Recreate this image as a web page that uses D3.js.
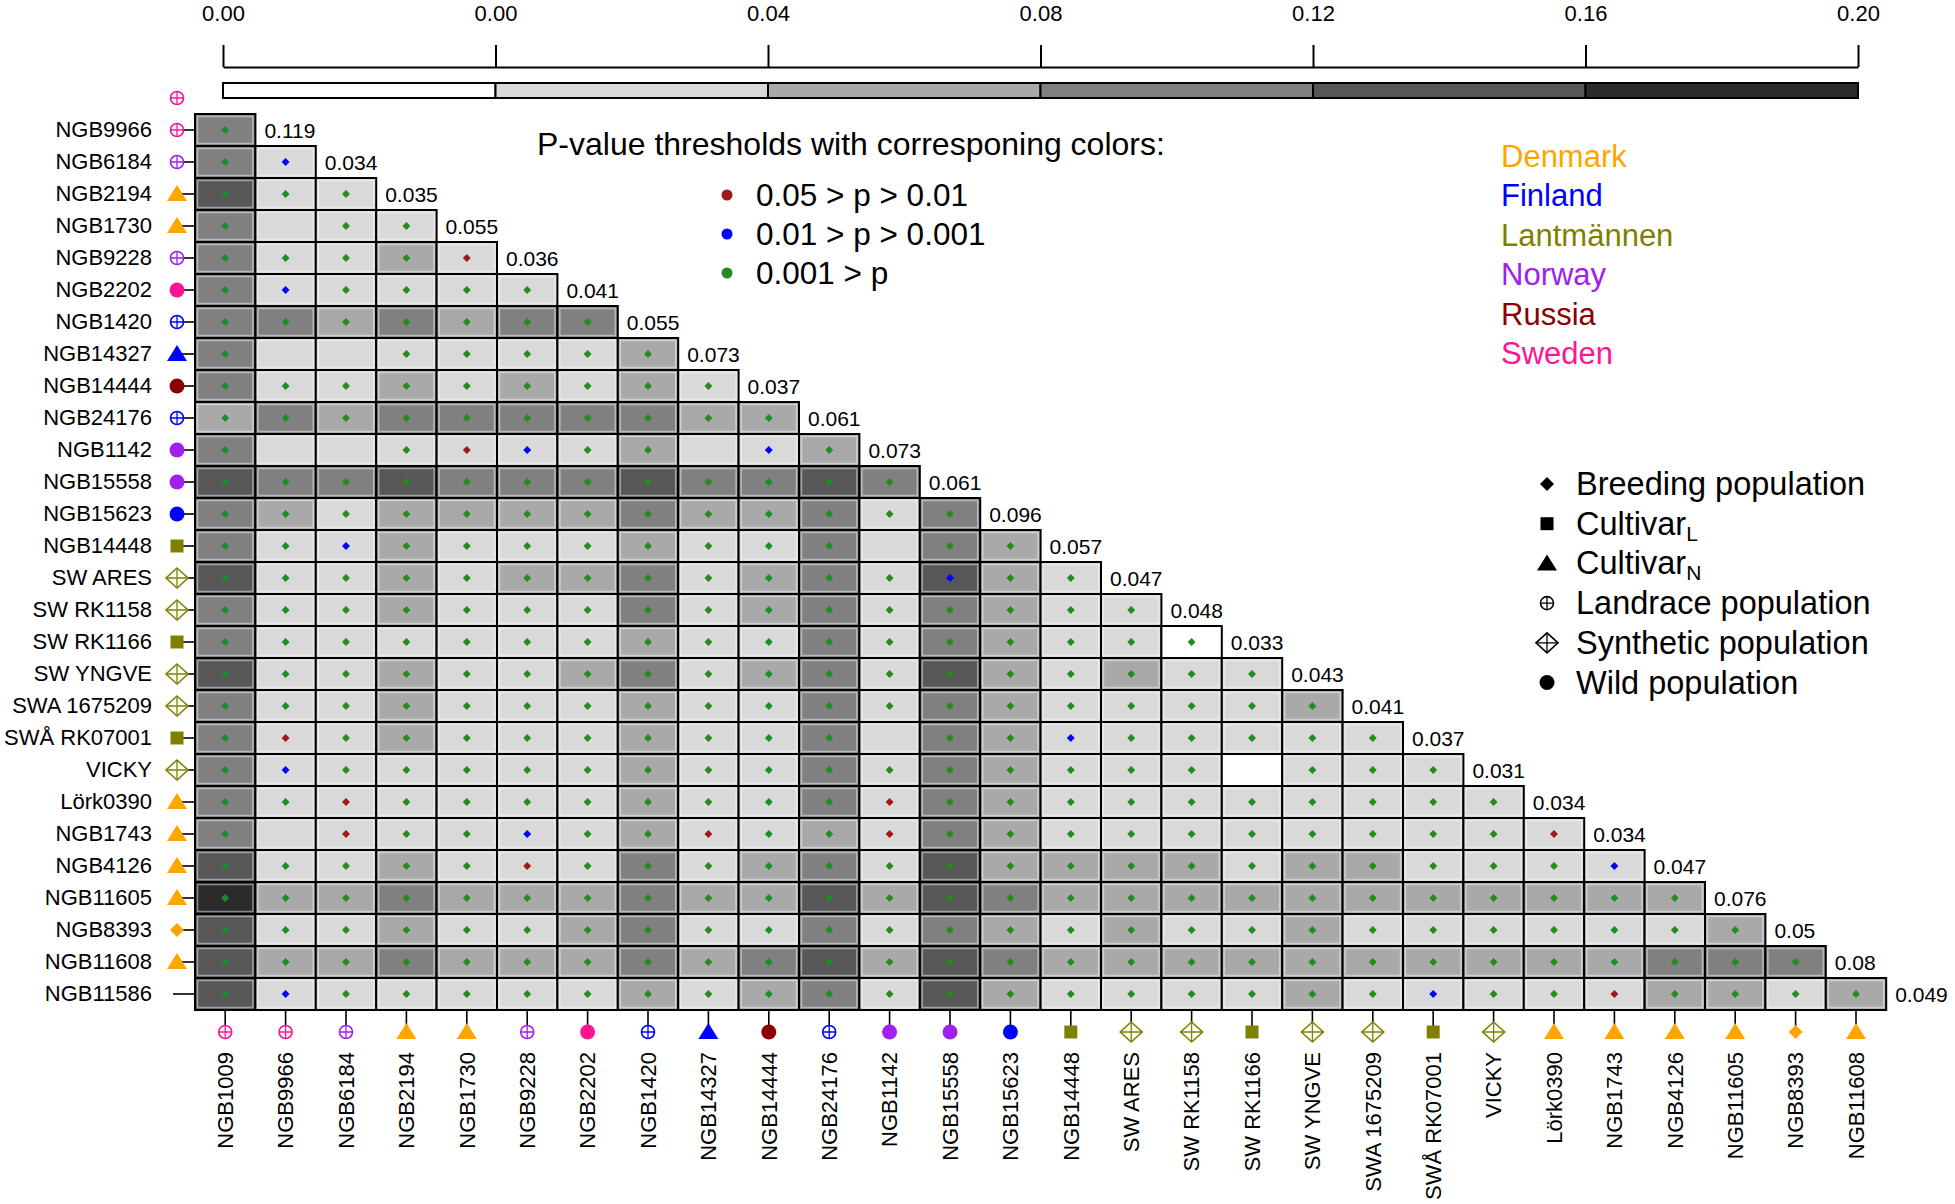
<!DOCTYPE html>
<html>
<head>
<meta charset="utf-8">
<script src="https://cdn.jsdelivr.net/npm/d3@7"></script>
<style>
body { margin: 0; background: #fff; }
text { font-family: "Liberation Sans", Arial, sans-serif; }
</style>
</head>
<body>
<svg id="chart"></svg>
<script>
// populations in matrix order (NGB1009 is only a column, NGB11586 only a row)
const pops = ["NGB1009", "NGB9966", "NGB6184", "NGB2194", "NGB1730", "NGB9228", "NGB2202", "NGB1420",
  "NGB14327", "NGB14444", "NGB24176", "NGB1142", "NGB15558", "NGB15623", "NGB14448", "SW ARES",
  "SW RK1158", "SW RK1166", "SW YNGVE", "SWA 1675209", "SWÅ RK07001", "VICKY", "Lörk0390", "NGB1743",
  "NGB4126", "NGB11605", "NGB8393", "NGB11608", "NGB11586"]

const popType = ["landrace", "landrace", "landrace", "cultivarN", "cultivarN", "landrace", "wild", "landrace",
  "cultivarN", "wild", "landrace", "wild", "wild", "wild", "cultivarL", "synthetic",
  "synthetic", "cultivarL", "synthetic", "synthetic", "cultivarL", "synthetic", "cultivarN", "cultivarN",
  "cultivarN", "cultivarN", "breeding", "cultivarN", "none"]

const popCountry = ["Sweden", "Sweden", "Norway", "Denmark", "Denmark", "Norway", "Sweden", "Finland",
  "Finland", "Russia", "Finland", "Norway", "Norway", "Finland", "Lantmännen", "Lantmännen",
  "Lantmännen", "Lantmännen", "Lantmännen", "Lantmännen", "Lantmännen", "Lantmännen", "Denmark", "Denmark",
  "Denmark", "Denmark", "Denmark", "Denmark", ""]

// numbers printed at the end of each row (NGB9966 ... NGB11586)
const diagValues = ["0.119", "0.034", "0.035", "0.055", "0.036", "0.041", "0.055", "0.073", "0.037", "0.061",
  "0.073", "0.061", "0.096", "0.057", "0.047", "0.048", "0.033", "0.043", "0.041", "0.037",
  "0.031", "0.034", "0.034", "0.047", "0.076", "0.05", "0.08", "0.049"]

// pairwise Fst, row k = pops[k+1] against pops[0..k] (estimated from the gray level)
const fstRows = [
  [0.10],
  [0.10,0.02],
  [0.14,0.02,0.02],
  [0.10,0.02,0.02,0.02],
  [0.10,0.02,0.02,0.06,0.02],
  [0.10,0.02,0.02,0.02,0.02,0.02],
  [0.10,0.10,0.06,0.10,0.06,0.10,0.10],
  [0.10,0.02,0.02,0.02,0.02,0.02,0.02,0.06],
  [0.10,0.02,0.02,0.06,0.02,0.06,0.02,0.06,0.02],
  [0.06,0.10,0.06,0.10,0.10,0.10,0.10,0.10,0.06,0.06],
  [0.10,0.02,0.02,0.02,0.02,0.02,0.02,0.06,0.02,0.02,0.06],
  [0.14,0.10,0.10,0.14,0.10,0.10,0.10,0.14,0.10,0.10,0.14,0.10],
  [0.10,0.06,0.02,0.06,0.06,0.06,0.06,0.10,0.06,0.06,0.10,0.02,0.10],
  [0.10,0.02,0.02,0.06,0.02,0.02,0.02,0.06,0.02,0.02,0.10,0.02,0.10,0.06],
  [0.14,0.02,0.02,0.06,0.02,0.06,0.06,0.10,0.02,0.06,0.10,0.02,0.14,0.06,0.02],
  [0.10,0.02,0.02,0.06,0.02,0.02,0.02,0.10,0.02,0.06,0.10,0.02,0.10,0.06,0.02,0.02],
  [0.10,0.02,0.02,0.02,0.02,0.02,0.02,0.06,0.02,0.02,0.10,0.02,0.10,0.06,0.02,0.02,-0.002],
  [0.14,0.02,0.02,0.06,0.02,0.02,0.06,0.10,0.02,0.06,0.10,0.02,0.14,0.06,0.02,0.06,0.02,0.02],
  [0.10,0.02,0.02,0.06,0.02,0.02,0.02,0.06,0.02,0.02,0.10,0.02,0.10,0.06,0.02,0.02,0.02,0.02,0.06],
  [0.10,0.02,0.02,0.06,0.02,0.02,0.02,0.06,0.02,0.02,0.10,0.02,0.10,0.06,0.02,0.02,0.02,0.02,0.02,0.02],
  [0.10,0.02,0.02,0.02,0.02,0.02,0.02,0.06,0.02,0.02,0.10,0.02,0.10,0.06,0.02,0.02,0.02,-0.002,0.02,0.02,0.02],
  [0.10,0.02,0.02,0.02,0.02,0.02,0.02,0.06,0.02,0.02,0.10,0.02,0.10,0.06,0.02,0.02,0.02,0.02,0.02,0.02,0.02,0.02],
  [0.10,0.02,0.02,0.02,0.02,0.02,0.02,0.06,0.02,0.02,0.06,0.02,0.10,0.06,0.02,0.02,0.02,0.02,0.02,0.02,0.02,0.02,0.02],
  [0.14,0.02,0.02,0.06,0.02,0.02,0.02,0.10,0.02,0.06,0.10,0.02,0.14,0.06,0.06,0.06,0.06,0.02,0.06,0.06,0.02,0.02,0.02,0.02],
  [0.18,0.06,0.06,0.10,0.06,0.06,0.06,0.10,0.06,0.06,0.14,0.06,0.14,0.10,0.06,0.06,0.06,0.06,0.06,0.06,0.06,0.06,0.06,0.06,0.06],
  [0.14,0.02,0.02,0.06,0.02,0.02,0.06,0.10,0.02,0.02,0.10,0.02,0.10,0.06,0.02,0.06,0.02,0.02,0.06,0.02,0.02,0.02,0.02,0.02,0.02,0.06],
  [0.14,0.06,0.06,0.10,0.06,0.06,0.06,0.10,0.06,0.10,0.14,0.06,0.14,0.10,0.06,0.06,0.06,0.06,0.06,0.06,0.06,0.06,0.06,0.06,0.10,0.10,0.10],
  [0.14,0.02,0.02,0.02,0.02,0.02,0.02,0.06,0.02,0.06,0.10,0.02,0.14,0.06,0.02,0.02,0.02,0.02,0.06,0.02,0.02,0.02,0.02,0.02,0.06,0.06,0.02,0.06]
]

// p-value class per cell: r = 0.05>p>0.01, b = 0.01>p>0.001, g = 0.001>p, . = not significant
const pRows = [
  "g",
  "gb",
  "ggg",
  "g.gg",
  "ggggr",
  "gbgggg",
  "ggggggg",
  "g..ggggg",
  "ggggggggg",
  "gggggggggg",
  "g..grbgg.bg",
  "gggggggggggg",
  "ggggggggggggg",
  "ggbgggggggg.gg",
  "ggggggggggggbgg",
  "gggggggggggggggg",
  "ggggggggggggggggg",
  "gggggggggggggggggg",
  "ggggggggggggggggggg",
  "grggggggggg.ggbggggg",
  "gbggggggggggggggg.ggg",
  "ggrggggggggrgggggggggg",
  "g.rggbggrggrggggggggggr",
  "gggggrgggggggggggggggggb",
  "ggggggggggggggggggggggggg",
  "gggggggggggggggggggggggggg",
  "ggggggggggggggggggggggggggg",
  "gbggggggggggggggggggbggrgggg"
]

const barTicks = ["0.00", "0.00", "0.04", "0.08", "0.12", "0.16", "0.20"]
const fstBreaks = [0, 0.04, 0.08, 0.12, 0.16]
const grays = ["#ffffff", "#d9d9d9", "#a9a9a9", "#808080", "#575757", "#2b2b2b"]

const countries = ["Denmark", "Finland", "Lantmännen", "Norway", "Russia", "Sweden"]
const countryColors = ["#ffa500", "#0000ff", "#808000", "#a020f0", "#8b0000", "#ff1493"]

const pKeys = ["r", "b", "g"]
const pLabels = ["0.05 > p > 0.01", "0.01 > p > 0.001", "0.001 > p"]
const pColors = ["#a01818", "#0000ff", "#228b22"]

const typeKeys = ["breeding", "cultivarL", "cultivarN", "landrace", "synthetic", "wild"]
const typeLabels = ["Breeding population", "Cultivar", "Cultivar", "Landrace population", "Synthetic population", "Wild population"]
const typeSubs = ["", "L", "N", "", "", ""]

const W = 1955, H = 1204
const svg = d3.select("#chart").attr("width", W).attr("height", H)

const cellW = 60.4, cellH = 32
const x = d3.scaleBand().domain(pops).range([195, 195 + pops.length * cellW])
const y = d3.scaleBand().domain(pops).range([82, 82 + pops.length * cellH])
const fill = d3.scaleThreshold().domain(fstBreaks).range(grays)
const countryColor = d3.scaleOrdinal().domain(countries).range(countryColors)
const pColor = d3.scaleOrdinal().domain(pKeys).range(pColors)

function marker(g, type, color) {
  if (type == "landrace") {
    g.append("circle").attr("r", 6.5).attr("fill", "#fff").attr("stroke", color).attr("stroke-width", 1.6)
    g.append("path").attr("d", "M-6.5,0H6.5M0,-6.5V6.5").attr("stroke", color).attr("stroke-width", 1.3)
  } else if (type == "synthetic") {
    g.append("path").attr("d", "M0,-10L11,0L0,10L-11,0Z").attr("fill", "#fff").attr("stroke", color).attr("stroke-width", 1.6)
    g.append("path").attr("d", "M-11,0H11M0,-10V10").attr("stroke", color).attr("stroke-width", 1.3)
  } else if (type == "wild") {
    g.append("circle").attr("r", 7.5).attr("fill", color)
  } else if (type == "cultivarL") {
    g.append("rect").attr("x", -6.5).attr("y", -6.5).attr("width", 13).attr("height", 13).attr("fill", color)
  } else if (type == "cultivarN") {
    g.append("path").attr("d", "M0,-9L10,7L-10,7Z").attr("fill", color)
  } else if (type == "breeding") {
    g.append("path").attr("d", "M0,-7L7,0L0,7L-7,0Z").attr("fill", color)
  }
}

// ---- color bar at the top
const barX = d3.scaleLinear().domain([0, barTicks.length - 1]).range([223, 1858])
const barAxis = svg.append("g")
  .attr("transform", "translate(0,67)")
  .call(d3.axisTop(barX).tickValues(d3.range(barTicks.length)).tickFormat(i => barTicks[i])
    .tickSize(22).tickPadding(24).tickSizeOuter(0))
barAxis.selectAll("path, line").attr("stroke", "#000").attr("stroke-width", 2)
barAxis.selectAll("text").attr("font-size", 22).attr("fill", "#000")
barAxis.attr("font-family", null).attr("font-size", null)

svg.append("g").selectAll("rect")
  .data(grays)
  .join("rect")
  .attr("x", (d, i) => barX(i))
  .attr("y", 83)
  .attr("width", (d, i) => barX(i + 1) - barX(i))
  .attr("height", 15)
  .attr("fill", d => d)
  .attr("stroke", "#000")
  .attr("stroke-width", 2)

// ---- matrix cells
const cells = []
fstRows.forEach((row, k) => {
  row.forEach((v, c) => {
    cells.push({ row: pops[k + 1], col: pops[c], v: v, p: pRows[k][c] })
  })
})

const cellG = svg.append("g")
cellG.selectAll("rect.cell")
  .data(cells)
  .join("rect")
  .attr("class", "cell")
  .attr("x", d => x(d.col))
  .attr("y", d => y(d.row))
  .attr("width", x.bandwidth())
  .attr("height", y.bandwidth())
  .attr("fill", d => fill(d.v))
  .attr("stroke", "#000")
  .attr("stroke-width", 2)

cellG.selectAll("rect.halo")
  .data(cells)
  .join("rect")
  .attr("class", "halo")
  .attr("x", d => x(d.col) + 2.5)
  .attr("y", d => y(d.row) + 2.5)
  .attr("width", x.bandwidth() - 5)
  .attr("height", y.bandwidth() - 5)
  .attr("fill", "none")
  .attr("stroke", "#fff")
  .attr("stroke-opacity", 0.45)
  .attr("stroke-width", 1.5)

cellG.selectAll("path.dot")
  .data(cells.filter(d => d.p != "."))
  .join("path")
  .attr("class", "dot")
  .attr("transform", d => `translate(${x(d.col) + x.bandwidth() / 2},${y(d.row) + y.bandwidth() / 2})`)
  .attr("d", d3.symbol(d3.symbolDiamond2, 40))
  .attr("fill", d => pColor(d.p))

// value at the end of each row
svg.append("g").selectAll("text")
  .data(diagValues)
  .join("text")
  .attr("x", (d, i) => x(pops[i + 1]) + 9)
  .attr("y", (d, i) => y(pops[i + 1]) + y.bandwidth() / 2)
  .attr("dominant-baseline", "central")
  .attr("font-size", 21)
  .text(d => d)

// ---- row axis (band axis already centres the ticks)
const left = svg.append("g")
  .attr("transform", "translate(195,0)")
  .call(d3.axisLeft(y).tickValues(pops.slice(1)).tickSize(22).tickPadding(21).tickSizeOuter(0))
  .call(g => g.select(".domain").remove())
left.selectAll("line").attr("stroke", "#000").attr("stroke-width", 1.6)
left.selectAll("text").attr("font-size", 22).attr("fill", "#000")
left.attr("font-family", null).attr("font-size", null)

// ---- column axis
const bottom = svg.append("g")
  .attr("transform", `translate(0,${y.range()[1]})`)
  .call(d3.axisBottom(x).tickValues(pops.slice(0, 28)).tickSize(20).tickSizeOuter(0))
  .call(g => g.select(".domain").remove())
bottom.selectAll("line").attr("stroke", "#000").attr("stroke-width", 1.6)
bottom.selectAll("text")
  .attr("font-size", 22)
  .attr("fill", "#000")
  .attr("transform", "rotate(-90)")
  .attr("x", -42)
  .attr("y", 0)
  .attr("dy", "0.35em")
  .attr("text-anchor", "end")
bottom.attr("font-family", null).attr("font-size", null)

// markers next to the row and column names
pops.forEach((p, i) => {
  if (popType[i] == "none") return
  const color = countryColor(popCountry[i])
  marker(svg.append("g").attr("transform", `translate(177,${y(p) + y.bandwidth() / 2})`), popType[i], color)
  if (i < 28) {
    marker(svg.append("g").attr("transform", `translate(${x(p) + x.bandwidth() / 2},${y.range()[1] + 22})`), popType[i], color)
  }
})

// ---- p-value legend
svg.append("text")
  .attr("x", 537).attr("y", 144)
  .attr("dominant-baseline", "central")
  .attr("font-size", 32)
  .text("P-value thresholds with corresponing colors:")

const pLeg = svg.append("g").selectAll("g")
  .data(pKeys)
  .join("g")
  .attr("transform", (d, i) => `translate(727,${195 + i * 39})`)
pLeg.append("circle").attr("r", 5.5).attr("fill", d => pColor(d))
pLeg.append("text")
  .attr("x", 29)
  .attr("dominant-baseline", "central")
  .attr("font-size", 31.5)
  .text((d, i) => pLabels[i])

// ---- country legend
svg.append("g").selectAll("text")
  .data(countries)
  .join("text")
  .attr("x", 1501)
  .attr("y", (d, i) => 156 + i * 39.5)
  .attr("dominant-baseline", "central")
  .attr("font-size", 31)
  .attr("fill", d => countryColor(d))
  .text(d => d)

// ---- population type legend
typeKeys.forEach((t, i) => {
  const g = svg.append("g").attr("transform", `translate(1547,${484 + i * 39.7})`)
  marker(g, t, "#000")
  const txt = g.append("text")
    .attr("x", 29)
    .attr("dominant-baseline", "central")
    .attr("font-size", 32.5)
    .text(typeLabels[i])
  if (typeSubs[i]) {
    txt.append("tspan").attr("font-size", 21).attr("dy", 9).text(typeSubs[i])
  }
})
</script>
</body>
</html>
